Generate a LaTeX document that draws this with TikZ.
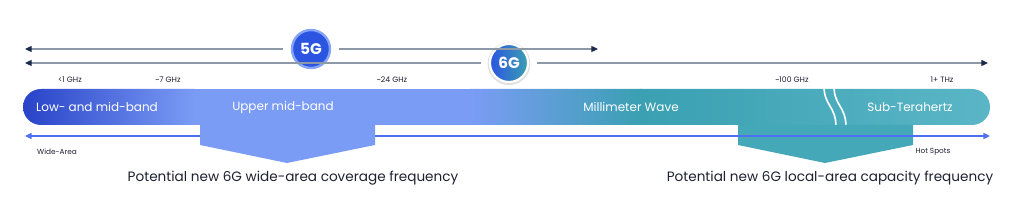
\documentclass[tikz,border=0pt]{standalone}
\usepackage{fontspec}
\setmainfont{Poppins}
\usetikzlibrary{arrows.meta,positioning}
\definecolor{bandnavy}{HTML}{1C2A4A}
\definecolor{bandgray}{HTML}{8D99A6}
\definecolor{banddark}{HTML}{2843C8}
\definecolor{bandmid}{HTML}{5F80EC}
\definecolor{bandlight}{HTML}{7B9CF5}
\definecolor{bandteal}{HTML}{3AA0B2}
\definecolor{bandtealb}{HTML}{5AB6C6}
\definecolor{bandpent}{HTML}{45A8B8}
\definecolor{bandline}{HTML}{4D6FF0}
\definecolor{bandtext}{HTML}{1E2030}
\definecolor{gen5fill}{HTML}{2B55E0}
\definecolor{gen5ring}{HTML}{86A4F5}

\begin{document}
\begin{tikzpicture}[x=0.75pt,y=-0.75pt,
    gen/.style={circle,minimum size=28.5pt,inner sep=0pt,outer sep=7pt,text=white,
      font=\bfseries\fontsize{11.5}{12}\selectfont},
    spanarrow/.style={draw=bandgray,line width=0.9pt,
      -{Triangle[length=5pt,width=4.5pt,color=bandnavy]}},
    freq/.style={text=bandtext,font=\fontsize{5.8}{6}\selectfont},
    bandlabel/.style={text=white,font=\fontsize{9}{10}\selectfont},
    reach/.style={text=bandtext,font=\fontsize{5.5}{6}\selectfont},
    captext/.style={text=bandtext,font=\fontsize{10.2}{12}\selectfont}]
  \useasboundingbox (0,0) rectangle (1025,213);

  % 5G and 6G spans
  \node[gen,fill=gen5fill,draw=gen5ring,line width=1.8pt] (g5) at (311,49) {5G};
  \fill[black!12] (509,63.8) circle (16pt);
  \node[gen,left color=gen5fill,right color=bandteal,draw=white,line width=1.6pt] (g6) at (509,63) {6G};
  \coordinate (a5l) at (25,49);
  \coordinate (a5r) at (598,49);
  \coordinate (a6l) at (25,63);
  \coordinate (a6r) at (988,63);
  \draw[spanarrow] (g5) -- (a5l);
  \draw[spanarrow] (g5) -- (a5r);
  \draw[spanarrow] (g6) -- (a6l);
  \draw[spanarrow] (g6) -- (a6r);

  % frequency marks
  \node[freq] (f1) at (70,80) {<1 GHz};
  \node[freq] (f7) at (168,80) {\textasciitilde7 GHz};
  \node[freq] (f24) at (392,80) {\textasciitilde24 GHz};
  \node[freq] (f100) at (792,80) {\textasciitilde100 GHz};
  \node[freq] (fthz) at (942,80) {1+ THz};

  % band bar
  \begin{scope}
    \clip[rounded corners=13.5pt] (23,89) rectangle (990,125);
    \shade[left color=banddark,right color=bandlight] (23,89) rectangle (195,125);
    \fill[bandlight] (194,89) rectangle (471,125);
    \shade[left color=bandlight,right color=bandteal] (470,89) rectangle (641,125);
    \shade[left color=bandteal,right color=bandtealb] (640,89) rectangle (990,125);
  \end{scope}
  \draw[white,line width=1.2pt] (824,86) .. controls (824,106) and (836,106) .. (836,127);
  \draw[white,line width=1.2pt] (834,86) .. controls (834,106) and (846,106) .. (846,127);
  \node[bandlabel] (lowmid) at (97,107) {Low- and mid-band};
  \node[bandlabel] (uppermid) at (283,107) {Upper mid-band};
  \node[bandlabel] (mmw) at (631,107) {Millimeter Wave};
  \node[bandlabel] (subthz) at (910,107) {Sub-Terahertz};

  % reach arrow
  \fill[bandpent] (738,125) -- (913,125) -- (913,145) -- (825,163) -- (738,145) -- cycle;
  \coordinate (rl) at (25,136);
  \coordinate (rr) at (990,136);
  \draw[bandline,line width=1.1pt,{Triangle[length=5pt,width=4.5pt]}-{Triangle[length=5pt,width=4.5pt]}] (rl) -- (rr);
  \fill[bandlight] (200,125) -- (375,125) -- (375,145) -- (287,163) -- (200,145) -- cycle;
  \node[reach] (wide) at (57,152) {Wide-Area};
  \node[reach] (hot) at (933,152) {Hot Spots};

  \node[captext] (capwide) at (293,178) {Potential new 6G wide-area coverage frequency};
  \node[captext] (caplocal) at (830,178) {Potential new 6G local-area capacity frequency};
\end{tikzpicture}
\end{document}
